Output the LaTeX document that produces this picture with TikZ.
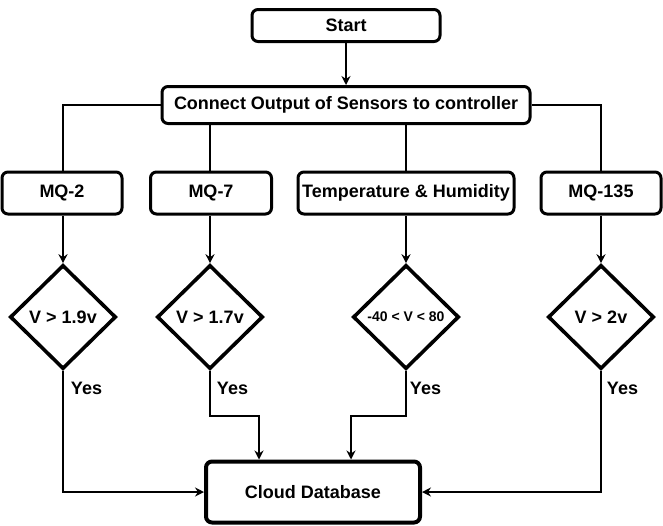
\documentclass[tikz,border=0pt]{standalone}
\usepackage{fontspec}
\setmainfont{Liberation Sans}
\usetikzlibrary{shapes.geometric,arrows.meta}
\tikzset{
  box/.style={draw=black,line width=3pt,rounded corners=6pt,fill=white,inner sep=0pt,
    font=\fontsize{18}{20}\selectfont\bfseries},
  bigbox/.style={box,line width=4pt},
  cond/.style={draw=black,diamond,line width=3.6pt,fill=white,inner sep=0pt,
    minimum width=106pt,minimum height=104pt,font=\fontsize{18}{20}\selectfont\bfseries},
  yes/.style={inner sep=0pt,font=\fontsize{18}{20}\selectfont\bfseries},
  conn/.style={line width=1.5pt,draw=black},
  arr/.style={conn,-{Stealth[length=9pt,width=9pt,inset=3pt]}}
}
\begin{document}
\begin{tikzpicture}[x=1pt,y=-1pt]
\useasboundingbox (0,0) rectangle (663,525);
\node[box,minimum width=188pt,minimum height=32pt] (start) at (346,25.5) {Start};
\node[box,minimum width=368pt,minimum height=37pt] (connect) at (346,105) {Connect Output of Sensors to controller};
\node[box,minimum width=120pt,minimum height=42pt] (mq2) at (62,193) {MQ-2};
\node[box,minimum width=121pt,minimum height=42pt] (mq7) at (211,193) {MQ-7};
\node[box,minimum width=216pt,minimum height=42pt] (temp) at (406,193) {Temperature \& Humidity};
\node[box,minimum width=120pt,minimum height=42pt] (mq135) at (601,193) {MQ-135};
\node[cond] (d1) at (63,317) {V > 1.9v};
\node[cond] (d2) at (210,317) {V > 1.7v};
\node[cond,font=\fontsize{14}{16}\selectfont\bfseries] (d3) at (406,317) {-40 < V < 80};
\node[cond] (d4) at (601,317) {V > 2v};
\node[bigbox,minimum width=214pt,minimum height=61pt] (cloud) at (313,492) {Cloud Database};
\node[yes] (y1) at (86.5,388) {Yes};
\node[yes] (y2) at (232.5,388) {Yes};
\node[yes] (y3) at (425.5,388) {Yes};
\node[yes] (y4) at (622.5,388) {Yes};
\coordinate (c7) at ([xshift=-54pt]cloud.north);
\coordinate (c3) at ([xshift=38pt]cloud.north);
\draw[arr] (start.south) -- (connect.north);
\draw[conn] (connect.west) -| (d1.north |- mq2.north);
\draw[conn] (connect.east) -| (mq135.north);
\draw[conn] (connect.south -| d2.north) -- (d2.north |- mq7.north);
\draw[conn] (connect.south -| temp.north) -- (temp.north);
\draw[arr] (mq2.south -| d1.north) -- (d1.north);
\draw[arr] (mq7.south -| d2.north) -- (d2.north);
\draw[arr] (temp.south) -- (d3.north);
\draw[arr] (mq135.south) -- (d4.north);
\draw[arr] (d1.south) |- (cloud.west);
\draw[arr] (d4.south) |- (cloud.east);
\draw[arr] (d2.south) -- ++(0,45) -| (c7);
\draw[arr] (d3.south) -- ++(0,45) -| (c3);
\end{tikzpicture}
\end{document}
